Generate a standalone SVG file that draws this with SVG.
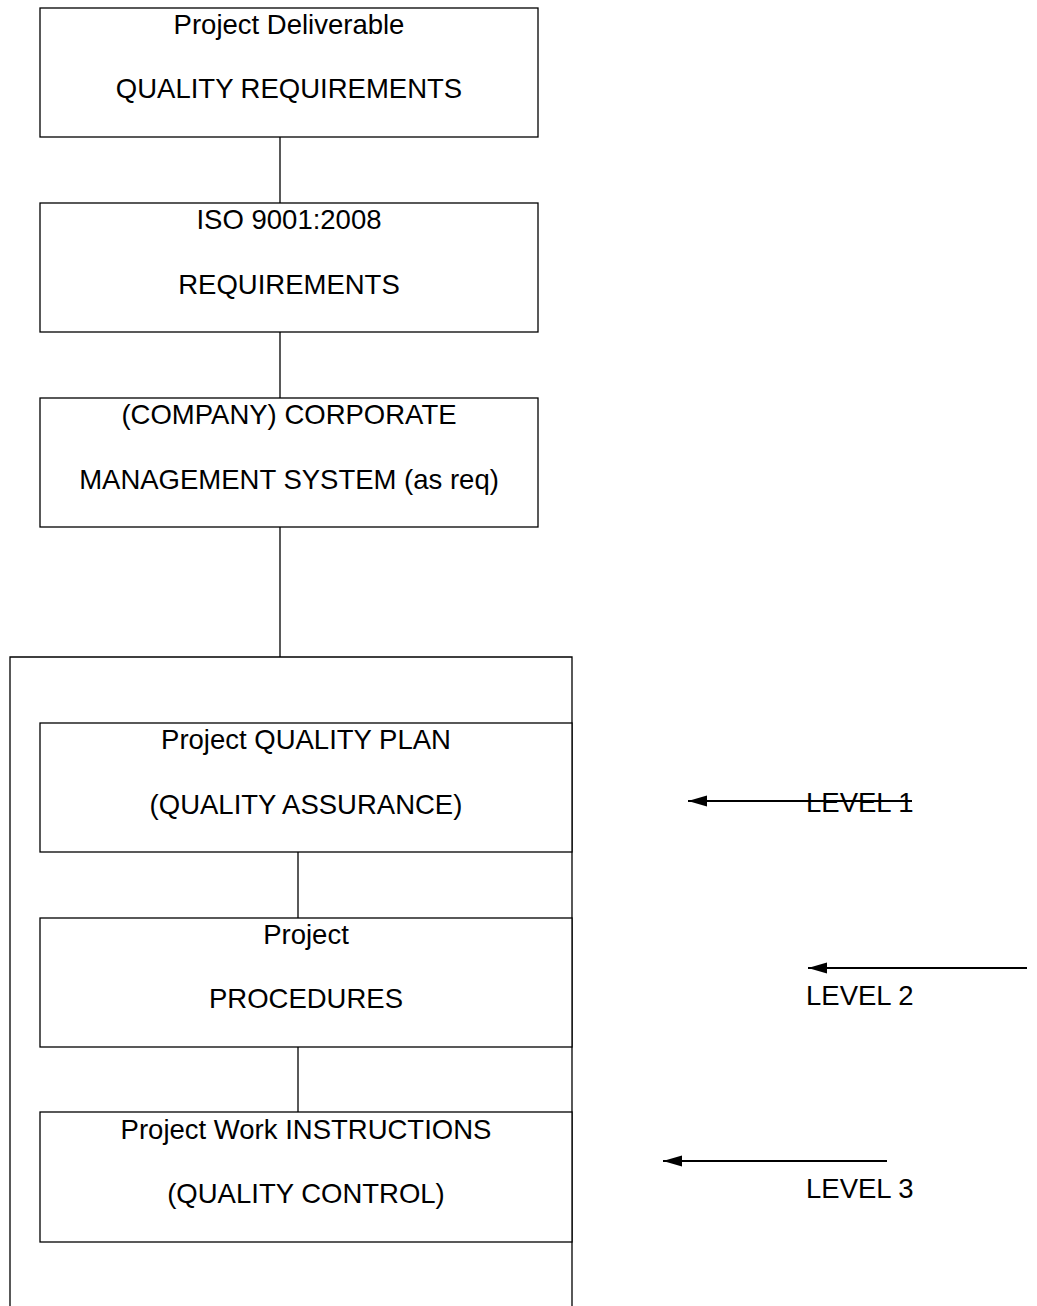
<svg xmlns="http://www.w3.org/2000/svg" width="1037" height="1306" viewBox="0 0 1037 1306">
<style>
.box{fill:#fff;stroke:#000;stroke-width:1.3}
.ln{stroke:#000;stroke-width:1.3;fill:none}
.t{font-family:"Liberation Sans",Arial,sans-serif;font-size:27.5px;fill:#000;text-anchor:middle}
.l{font-family:"Liberation Sans",Arial,sans-serif;font-size:27.5px;fill:#000}
.arr{stroke:#000;stroke-width:1.8;fill:none;marker-start:url(#ah)}
</style>
<defs>
<marker id="ah" markerWidth="20" markerHeight="12" refX="19" refY="6" orient="auto-start-reverse" markerUnits="userSpaceOnUse">
<path d="M0,0.5 L19,6 L0,11.5 Z" fill="#000"/>
</marker>
</defs>
<rect width="1037" height="1306" fill="#fff"/>
<g id="container">
<path class="ln" d="M10,1306 V657 H572 V1306"/>
</g>
<g id="connectors">
<line class="ln" x1="280" y1="137" x2="280" y2="203"/>
<line class="ln" x1="280" y1="332" x2="280" y2="398"/>
<line class="ln" x1="280" y1="527" x2="280" y2="657"/>
<line class="ln" x1="298" y1="852" x2="298" y2="918"/>
<line class="ln" x1="298" y1="1047" x2="298" y2="1112"/>
</g>
<g id="n1"><rect class="box" x="40" y="8" width="498" height="129"/>
<text class="t" x="289" y="34">Project Deliverable</text><text class="t" x="289" y="98">QUALITY REQUIREMENTS</text></g>
<g id="n2"><rect class="box" x="40" y="203" width="498" height="129"/>
<text class="t" x="289" y="229">ISO 9001:2008</text><text class="t" x="289" y="294">REQUIREMENTS</text></g>
<g id="n3"><rect class="box" x="40" y="398" width="498" height="129"/>
<text class="t" x="289" y="424">(COMPANY) CORPORATE</text><text class="t" x="289" y="489">MANAGEMENT SYSTEM (as req)</text></g>
<g id="n4"><rect class="box" x="40" y="723" width="532" height="129"/>
<text class="t" x="306" y="749">Project QUALITY PLAN</text><text class="t" x="306" y="814">(QUALITY ASSURANCE)</text></g>
<g id="n5"><rect class="box" x="40" y="918" width="532" height="129"/>
<text class="t" x="306" y="944">Project</text><text class="t" x="306" y="1008">PROCEDURES</text></g>
<g id="n6"><rect class="box" x="40" y="1112" width="532" height="130"/>
<text class="t" x="306" y="1139">Project Work INSTRUCTIONS</text><text class="t" x="306" y="1203">(QUALITY CONTROL)</text></g>
<g id="level1"><text class="l" x="806" y="812">LEVEL 1</text><line class="arr" x1="688" y1="801" x2="912" y2="801"/></g>
<g id="level2"><text class="l" x="806" y="1005">LEVEL 2</text><line class="arr" x1="808" y1="968" x2="1027" y2="968"/></g>
<g id="level3"><text class="l" x="806" y="1198">LEVEL 3</text><line class="arr" x1="663" y1="1161" x2="887" y2="1161"/></g>
</svg>
